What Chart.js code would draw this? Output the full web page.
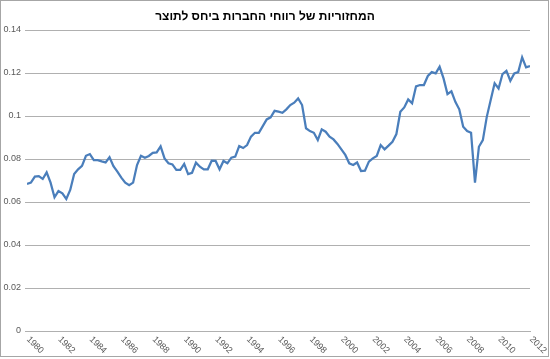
<!DOCTYPE html>
<html>
<head>
<meta charset="utf-8">
<script src="https://cdn.jsdelivr.net/npm/chart.js@4/dist/chart.umd.min.js"></script>
<style>
html,body{margin:0;padding:0;background:#fff;}
#wrap{width:550px;height:359px;position:relative;}
</style>
</head>
<body>
<div id="wrap"><canvas id="c" width="550" height="359"></canvas></div>
<script>
// Chart title
const chartTitle = 'המחזוריות של רווחי החברות ביחס לתוצר';
// First quarter of the series (quarterly data, 1980Q1 .. 2012Q1)
const startYear = 1980;
// Profit share of GDP, quarterly values
const profitShare = [
  0.0684, 0.0690, 0.0718, 0.0720, 0.0707, 0.0738, 0.0690, 0.0622,
  0.0651, 0.0640, 0.0614, 0.0656, 0.0730, 0.0752, 0.0768, 0.0815,
  0.0823, 0.0795, 0.0795, 0.0789, 0.0784, 0.0808, 0.0767, 0.0741,
  0.0713, 0.0690, 0.0678, 0.0690, 0.0772, 0.0815, 0.0806, 0.0814,
  0.0829, 0.0831, 0.0859, 0.0803, 0.0780, 0.0775, 0.0749, 0.0749,
  0.0777, 0.0730, 0.0736, 0.0783, 0.0764, 0.0752, 0.0752, 0.0792,
  0.0791, 0.0752, 0.0791, 0.0780, 0.0806, 0.0811, 0.0860, 0.0851,
  0.0865, 0.0904, 0.0922, 0.0922, 0.0953, 0.0984, 0.0994, 0.1024,
  0.1020, 0.1015, 0.1031, 0.1051, 0.1062, 0.1082, 0.1051, 0.0943,
  0.0930, 0.0922, 0.0888, 0.0938, 0.0927, 0.0904, 0.0891, 0.0870,
  0.0845, 0.0819, 0.0780, 0.0772, 0.0784, 0.0744, 0.0746, 0.0788,
  0.0803, 0.0814, 0.0865, 0.0845, 0.0862, 0.0880, 0.0916, 0.1020,
  0.1040, 0.1077, 0.1059, 0.1138, 0.1144, 0.1144, 0.1186, 0.1204,
  0.1198, 0.1229, 0.1175, 0.1102, 0.1115, 0.1066, 0.1031, 0.0950,
  0.0930, 0.0922, 0.0690, 0.0857, 0.0888, 0.0996, 0.1074, 0.1152,
  0.1128, 0.1195, 0.1210, 0.1164, 0.1198, 0.1204, 0.1273, 0.1226,
  0.1232
];
// X tick labels (years)
const yearTicks = [1980, 1982, 1984, 1986, 1988, 1990, 1992, 1994, 1996,
                   1998, 2000, 2002, 2004, 2006, 2008, 2010, 2012];
// Y tick values
const yTicks = [0, 0.02, 0.04, 0.06, 0.08, 0.1, 0.12, 0.14];

const points = profitShare.map((v, i) => ({ x: startYear + i / 4, y: v }));

const framePlugin = {
  id: 'frame',
  beforeDraw(chart) {
    const ctx = chart.ctx;
    ctx.save();
    ctx.fillStyle = '#ffffff';
    ctx.fillRect(0, 0, chart.width, chart.height);
    ctx.restore();
  },
  afterDraw(chart) {
    const ctx = chart.ctx;
    const xs = chart.scales.x;
    ctx.save();
    ctx.fillStyle = '#595959';
    ctx.font = '9px "Liberation Sans", Arial, sans-serif';
    ctx.textAlign = 'left';
    ctx.textBaseline = 'middle';
    yearTicks.forEach(yr => {
      const px = xs.getPixelForValue(yr);
      ctx.save();
      ctx.translate(px + 1, xs.top + 7);
      ctx.rotate(Math.PI / 4);
      ctx.fillText(String(yr), 0, 0);
      ctx.restore();
    });
    ctx.strokeStyle = '#a6a6a6';
    ctx.lineWidth = 1;
    ctx.strokeRect(0.5, 0.5, chart.width - 2, chart.height - 3);
    ctx.restore();
  }
};

new Chart(document.getElementById('c'), {
  type: 'line',
  data: {
    datasets: [{
      data: points,
      borderColor: '#4a7ebb',
      borderWidth: 2.25,
      pointRadius: 0,
      tension: 0,
      fill: false
    }]
  },
  options: {
    responsive: false,
    animation: false,
    devicePixelRatio: 1,
    layout: { padding: { left: 0, right: 20, top: 0, bottom: 0 } },
    plugins: {
      legend: { display: false },
      tooltip: { enabled: false },
      title: {
        display: true,
        text: chartTitle,
        color: '#000000',
        font: { family: '"Liberation Sans", Arial, sans-serif', size: 12, weight: 'bold' },
        padding: { top: 9, bottom: 6.6 }
      }
    },
    scales: {
      x: {
        type: 'linear',
        min: yearTicks[0],
        max: yearTicks[yearTicks.length - 1],
        grid: { display: false },
        border: { display: true, color: '#b0b0b0', width: 1 },
        ticks: { display: false, stepSize: 2 },
        afterFit(scale) { scale.height = 28; }
      },
      y: {
        min: 0,
        max: 0.14,
        grid: { color: '#b0b0b0', lineWidth: 1, drawTicks: true, tickLength: 2 },
        border: { display: false },
        ticks: {
          stepSize: 0.02,
          color: '#595959',
          font: { family: '"Liberation Sans", Arial, sans-serif', size: 9 },
          padding: 4,
          callback: v => String(+v.toFixed(2))
        },
        afterBuildTicks(scale) { scale.ticks = yTicks.map(v => ({ value: v })); },
        afterFit(scale) { scale.width = 27; }
      }
    }
  },
  plugins: [framePlugin]
});
</script>
</body>
</html>
